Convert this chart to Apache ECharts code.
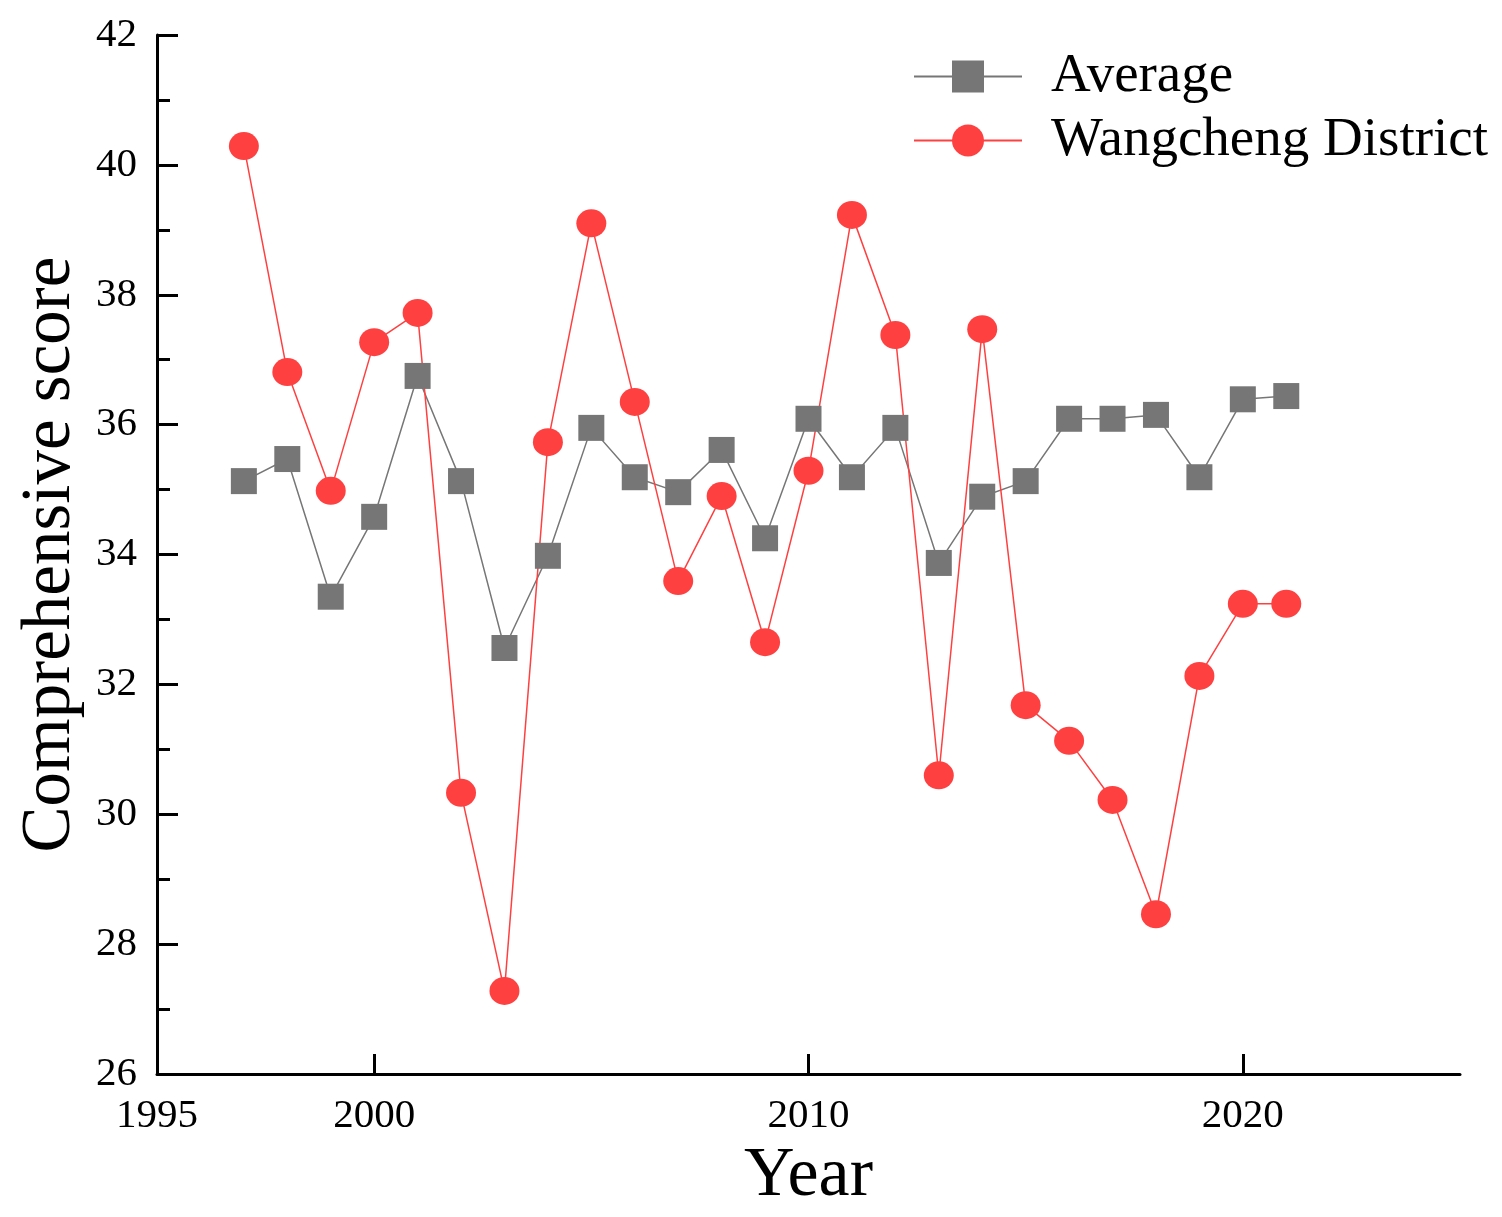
<!DOCTYPE html>
<html>
<head>
<meta charset="utf-8">
<script src="https://cdn.jsdelivr.net/npm/echarts@6/dist/echarts.min.js"></script>
<style>html,body{margin:0;padding:0;background:#fff;}#c{width:1502px;height:1217px;}</style>
</head>
<body>
<div id="c"></div>
<script>
var years = [1997,1998,1999,2000,2001,2002,2003,2004,2005,2006,2007,2008,2009,2010,2011,2012,2013,2014,2015,2016,2017,2018,2019,2020,2021];
var average = [35.13,35.47,33.35,34.58,36.75,35.13,32.56,33.98,35.95,35.19,34.96,35.61,34.25,36.09,35.19,35.95,33.87,34.89,35.13,36.09,36.09,36.15,35.19,36.39,36.44];
var wangcheng = [40.29,36.81,34.98,37.27,37.72,30.33,27.28,35.73,39.10,36.35,33.59,34.90,32.65,35.29,39.23,37.38,30.60,37.47,31.68,31.13,30.22,28.46,32.13,33.24,33.24];
var xLabelValues = [1995,2000,2010,2020];
var xTickValues = [2000,2010,2020];

function pairs(xs, ys){ return xs.map(function(x,i){ return [x, ys[i]]; }); }

var font = "'Liberation Serif','Times New Roman',serif";
var chart = echarts.init(document.getElementById('c'), null, {renderer:'canvas'});
chart.setOption({
  animation: false,
  backgroundColor: '#fff',
  textStyle: {fontFamily: font},
  grid: {left:157, top:35, right:42, bottom:143, containLabel:false},
  legend: {
    orient: 'vertical', left: 913, top: 49, padding: 0,
    itemWidth: 108, itemHeight: 40, itemGap: 9,
    textStyle: {fontFamily: font, fontSize: 55, color: '#000', padding: [0,0,0,24]},
    data: ['Average', 'Wangcheng District']
  },
  xAxis: {
    type: 'value', min: 1995, max: 2025, interval: 5,
    name: 'Year', nameLocation: 'middle', nameGap: 66,
    nameTextStyle: {fontFamily: font, fontSize: 70, color: '#000'},
    axisLine: {show:true, lineStyle:{color:'#000', width:3}},
    axisTick: {show:true, inside:true, length:20, lineStyle:{color:'#000', width:3}, customValues: xTickValues},
    axisLabel: {fontFamily: font, fontSize: 41, color:'#000', margin: 22, customValues: xLabelValues,
      formatter: function(v){ return String(v); }},
    splitLine: {show:false}
  },
  yAxis: {
    type: 'value', min: 26, max: 42, interval: 2,
    name: 'Comprehensive score', nameLocation: 'middle', nameGap: 72, nameRotate: 90,
    nameTextStyle: {fontFamily: font, fontSize: 69, color: '#000'},
    axisLine: {show:true, lineStyle:{color:'#000', width:3}},
    axisTick: {show:true, inside:true, length:21, lineStyle:{color:'#000', width:3}},
    minorTick: {show:true, splitNumber:2, length:13, lineStyle:{color:'#000', width:3}},
    axisLabel: {fontFamily: font, fontSize: 41, color:'#000', margin: 20,
      formatter: function(v){ return String(v); }},
    splitLine: {show:false}
  },
  series: [
    {
      name: 'Average', type: 'line', data: pairs(years, average),
      symbol: 'rect', symbolSize: 26,
      itemStyle: {color:'#767676'},
      lineStyle: {color:'#767676', width:1.5}
    },
    {
      name: 'Wangcheng District', type: 'line', data: pairs(years, wangcheng),
      symbol: 'circle', symbolSize: [30,28],
      itemStyle: {color:'#ff4040'},
      lineStyle: {color:'#ff4040', width:1.5}
    }
  ]
});
</script>
</body>
</html>
